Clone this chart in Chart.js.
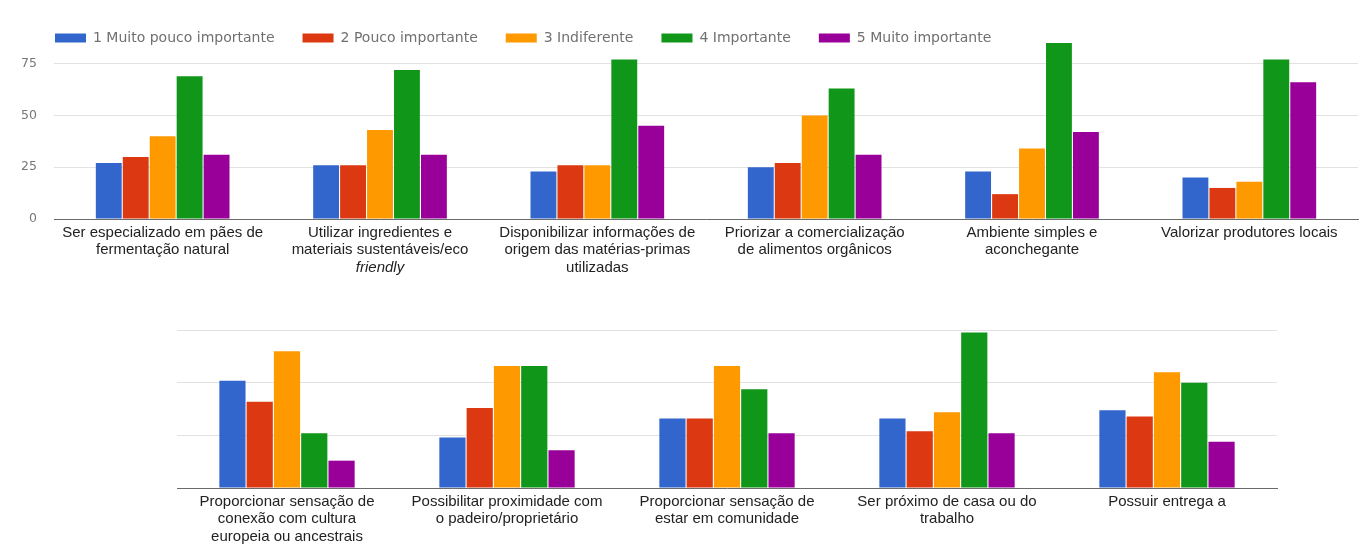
<!DOCTYPE html>
<html>
<head>
<meta charset="utf-8">
<script src="https://cdn.jsdelivr.net/npm/chart.js@4.4.1/dist/chart.umd.min.js"></script>
<style>
  html, body { margin: 0; padding: 0; background: #fff; }
  #wrap { position: relative; width: 1359px; height: 547px; overflow: hidden; background: #fff; }
  canvas { position: absolute; left: 0; }
  #chartTop { top: 0; }
  #chartBottom { top: 300px; }
</style>
</head>
<body>
<div id="wrap">
  <canvas id="chartTop" width="1359" height="280"></canvas>
  <canvas id="chartBottom" width="1359" height="247"></canvas>
</div>
<script>
// Rating scale (legend)
const seriesNames = [
  '1 Muito pouco importante',
  '2 Pouco importante',
  '3 Indiferente',
  '4 Importante',
  '5 Muito importante'
];

// First row of attributes
const topCategories = [
  ['Ser especializado em pães de', 'fermentação natural'],
  ['Utilizar ingredientes e', 'materiais sustentáveis/eco', 'friendly'],
  ['Disponibilizar informações de', 'origem das matérias-primas', 'utilizadas'],
  ['Priorizar a comercialização', 'de alimentos orgânicos'],
  ['Ambiente simples e', 'aconchegante'],
  ['Valorizar produtores locais']
];
// label lines set in italics: [category index, line index]
const topItalicLines = [[1, 2]];

const topMuitoPouco  = [27, 26, 23, 25, 23, 20];
const topPouco       = [30, 26, 26, 27, 12, 15];
const topIndiferente = [40, 43, 26, 50, 34, 18];
const topImportante  = [69, 72, 77, 63, 85, 77];
const topMuito       = [31, 31, 45, 31, 42, 66];

// Second row of attributes
const bottomCategories = [
  ['Proporcionar sensação de', 'conexão com cultura', 'europeia ou ancestrais'],
  ['Possibilitar proximidade com', 'o padeiro/proprietário'],
  ['Proporcionar sensação de', 'estar em comunidade'],
  ['Ser próximo de casa ou do', 'trabalho'],
  ['Possuir entrega a']
];

const bottomMuitoPouco  = [51, 24, 33, 33, 37];
const bottomPouco       = [41, 38, 33, 27, 34];
const bottomIndiferente = [65, 58, 58, 36, 55];
const bottomImportante  = [26, 58, 47, 74, 50];
const bottomMuito       = [13, 18, 26, 26, 22];

const yTickStep = 25;

// ---- styling ----
const seriesColors = ['#3366cc', '#dc3912', '#ff9900', '#109618', '#990099'];
const labelFont = { family: '"Liberation Sans", Arial, sans-serif', size: 15, lineHeight: 1.17 };
const labelColor = '#222';
const gridColor = '#e2e2e2';
const axisColor = '#6a6a6a';

function makeDatasets(seriesList) {
  return seriesList.map((values, i) => ({
    label: seriesNames[i],
    data: values,
    backgroundColor: seriesColors[i],
    borderWidth: 0,
    categoryPercentage: 0.62,
    barPercentage: 0.96
  }));
}

function isItalic(ci, li) {
  return topItalicLines.some(([c, l]) => c === ci && l === li);
}

// Legend box with a fixed layout height and its own left edge
// (horizontal spacing between items stays on labels.padding)
const legendBoxPlugin = {
  id: 'legendBox',
  beforeUpdate(chart, args, opts) {
    const lg = chart.legend;
    if (lg && !lg._fixedFit) {
      const fit = lg.fit;
      lg.fit = function () { fit.call(this); this.height = opts.height; };
      lg._fixedFit = true;
    }
  },
  afterLayout(chart, args, opts) {
    const lg = chart.legend;
    if (!lg) return;
    lg.left = opts.left;
    // let the label descenders draw past the reserved height
    lg.bottom = lg.top + opts.height + opts.overhang;
  }
};

// Draws the italic label lines beneath their category
const italicLabelPlugin = {
  id: 'italicLabels',
  afterDraw(chart) {
    const xs = chart.scales.x;
    const ctx = chart.ctx;
    const lh = labelFont.size * labelFont.lineHeight;
    ctx.save();
    ctx.font = 'italic ' + labelFont.size + 'px ' + labelFont.family;
    ctx.fillStyle = labelColor;
    ctx.textAlign = 'center';
    ctx.textBaseline = 'middle';
    topItalicLines.forEach(([c, l]) => {
      const x = xs.getPixelForValue(c);
      const y = xs.top + xs.options.ticks.padding + (l + 0.5) * lh;
      ctx.fillText(topCategories[c][l], x, y);
    });
    ctx.restore();
  }
};

function keepStepTicks(scale) {
  scale.ticks = scale.ticks.filter(t => t.value % yTickStep === 0);
}

// ---- top chart ----
new Chart(document.getElementById('chartTop'), {
  type: 'bar',
  data: {
    labels: topCategories,
    datasets: makeDatasets([topMuitoPouco, topPouco, topIndiferente, topImportante, topMuito])
  },
  plugins: [legendBoxPlugin, italicLabelPlugin],
  options: {
    responsive: false,
    animation: false,
    devicePixelRatio: 1,
    layout: { padding: { left: 0, right: 1, top: 3, bottom: 1 } },
    plugins: {
      legendBox: { height: 40, left: 27, overhang: 10 },
      tooltip: { enabled: false },
      legend: {
        display: true,
        position: 'top',
        align: 'start',
        labels: {
          boxWidth: 31,
          boxHeight: 9,
          padding: 28,
          color: '#707070',
          font: { family: '"DejaVu Sans", sans-serif', size: 14 }
        }
      }
    },
    scales: {
      x: {
        grid: { display: false, drawTicks: false },
        border: { display: true, color: axisColor, width: 1 },
        ticks: {
          autoSkip: false, maxRotation: 0, minRotation: 0, padding: 5,
          color: labelColor, font: labelFont,
          callback: (v, i) => topCategories[i].map((s, j) => isItalic(i, j) ? '' : s)
        },
        afterFit(scale) { scale.height = 60; }
      },
      y: {
        min: 0,
        max: 85,
        ticks: {
          stepSize: yTickStep, includeBounds: false, padding: 17, color: '#777',
          font: { family: '"DejaVu Sans", sans-serif', size: 12.5 }
        },
        afterBuildTicks: keepStepTicks,
        grid: { color: gridColor, drawTicks: false, lineWidth: 1 },
        border: { display: false },
        afterFit(scale) { scale.width = 54; }
      }
    }
  }
});

// ---- bottom chart ----
new Chart(document.getElementById('chartBottom'), {
  type: 'bar',
  data: {
    labels: bottomCategories,
    datasets: makeDatasets([bottomMuitoPouco, bottomPouco, bottomIndiferente, bottomImportante, bottomMuito])
  },
  options: {
    responsive: false,
    animation: false,
    devicePixelRatio: 1,
    layout: { padding: { left: 177, right: 82, top: 24, bottom: 1 } },
    plugins: {
      legend: { display: false },
      tooltip: { enabled: false }
    },
    scales: {
      x: {
        grid: { display: false, drawTicks: false },
        border: { display: true, color: axisColor, width: 1 },
        ticks: {
          autoSkip: false, maxRotation: 0, minRotation: 0, padding: 5,
          color: labelColor, font: labelFont
        },
        afterFit(scale) { scale.height = 58; }
      },
      y: {
        min: 0,
        max: 78,
        ticks: { display: false, stepSize: yTickStep, includeBounds: false },
        afterBuildTicks: keepStepTicks,
        grid: { color: gridColor, drawTicks: false, lineWidth: 1 },
        border: { display: false },
        afterFit(scale) { scale.width = 0; }
      }
    }
  }
});
</script>
</body>
</html>
